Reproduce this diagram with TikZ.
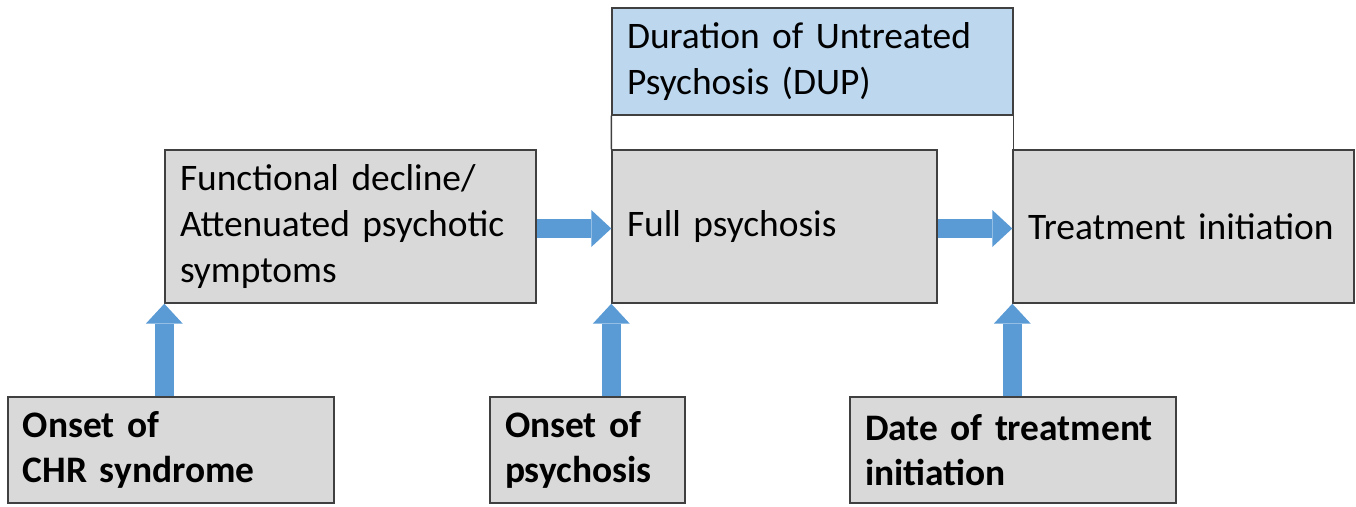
\documentclass[tikz,border=0pt]{standalone}
\usepackage{fontspec}
\setmainfont{Carlito}
\usetikzlibrary{arrows.meta}
\definecolor{boxgray}{HTML}{D9D9D9}
\definecolor{dupblue}{HTML}{BDD7EE}
\definecolor{arrblue}{HTML}{5B9BD5}
\definecolor{edge}{HTML}{404040}
\tikzset{box/.style = {draw = edge, line width = 0.8pt, fill = boxgray, inner xsep = 0.3cm,
    align = left, font = \fontsize{21.3}{26}\selectfont}}
\tikzset{bigarrow/.style = {arrblue, line width = 0.38cm,
    -{Triangle[length = 0.4cm, width = 0.74cm, line width = 0pt]}}}

\begin{document}
\begin{tikzpicture}
    \useasboundingbox (0,0) rectangle (27.12,10.12);
    \node (dup) at (16.25,8.89) [box, fill = dupblue, minimum width = 8.02cm, minimum height = 2.14cm, text width = 7.42cm]
        {Duration of Untreated\\Psychosis (DUP)};
    \node (fd) at (7.01,5.59) [box, minimum width = 7.42cm, minimum height = 3.06cm, text width = 6.82cm]
        {Functional decline/\\Attenuated psychotic\\symptoms};
    \node (fp) at (15.49,5.59) [box, minimum width = 6.50cm, minimum height = 3.06cm, text width = 5.90cm]
        {Full psychosis};
    \node (ti) at (23.67,5.59) [box, minimum width = 6.82cm, minimum height = 3.06cm, text width = 6.22cm]
        {Treatment initiation};
    \draw [edge, line width = 0.8pt] (dup.south west) -- (fp.north west);
    \draw [edge, line width = 0.8pt] (dup.south east) -- (dup.south east |- ti.north);
    \node (chr) at (3.42,1.12) [box, minimum width = 6.52cm, minimum height = 2.12cm, text width = 5.92cm]
        {\textbf{Onset of}\\\textbf{CHR syndrome}};
    \node (op) at (11.75,1.12) [box, minimum width = 3.90cm, minimum height = 2.12cm, text width = 3.30cm]
        {\textbf{Onset of}\\\textbf{psychosis}};
    \node (dt) at (20.26,1.12) [box, minimum width = 6.52cm, minimum height = 2.12cm, text width = 5.92cm]
        {\textbf{Date of treatment}\\\textbf{initiation}};
    \draw [bigarrow] (fd.east |- 0,5.55) -- (fp.west |- 0,5.55);
    \draw [bigarrow] (fp.east |- 0,5.55) -- (ti.west |- 0,5.55);
    \draw [bigarrow] (fd.south west |- chr.north) -- (fd.south west);
    \draw [bigarrow] (fp.south west |- op.north) -- (fp.south west);
    \draw [bigarrow] (ti.south west |- dt.north) -- (ti.south west);
\end{tikzpicture}
\end{document}
